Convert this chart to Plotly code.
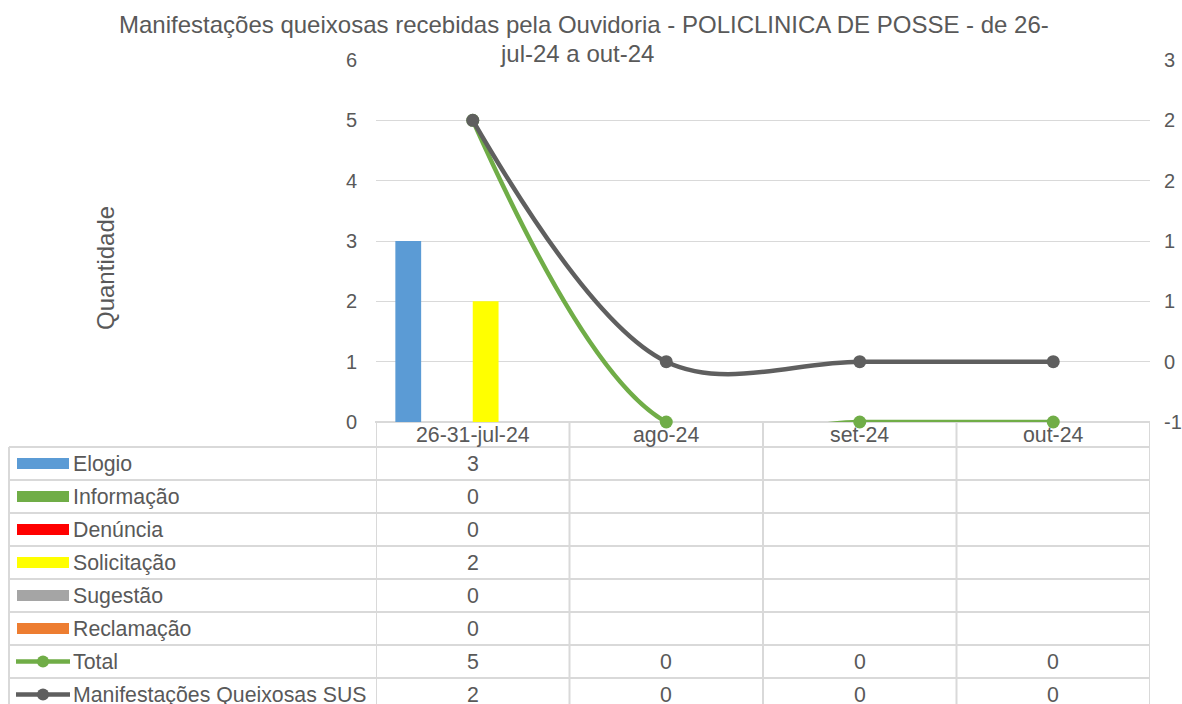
import plotly.graph_objects as go

# ---- data -------------------------------------------------------------
categories = ["26-31-jul-24", "ago-24", "set-24", "out-24"]

elogio = [3, None, None, None]
informacao = [0, None, None, None]
denuncia = [0, None, None, None]
solicitacao = [2, None, None, None]
sugestao = [0, None, None, None]
reclamacao = [0, None, None, None]
total = [5, 0, 0, 0]
queixosas_sus = [2, 0, 0, 0]

left_ticks = [0, 1, 2, 3, 4, 5, 6]
right_tick_labels = ["-1", "0", "1", "1", "2", "2", "3"]

title_lines = ["Manifestações queixosas recebidas pela Ouvidoria - POLICLINICA DE POSSE - de 26-",
               "jul-24 a out-24"]
y_title = "Quantidade"

bar_series = [
    ("Elogio", elogio, "#5B9BD5"),
    ("Informação", informacao, "#70AD47"),
    ("Denúncia", denuncia, "#FF0000"),
    ("Solicitação", solicitacao, "#FFFF00"),
    ("Sugestão", sugestao, "#A5A5A5"),
    ("Reclamação", reclamacao, "#ED7D31"),
]
line_series = [
    ("Total", total, "#70AD47", "y"),
    ("Manifestações Queixosas SUS", queixosas_sus, "#5F5F5F", "y2"),
]

# ---- layout geometry (pixels) -----------------------------------------
W, H = 1182, 704
L, R, T, B = 376, 32, 60, 282
PW, PH = W - L - R, H - T - B
TEXT = "#595959"
GRID = "#D9D9D9"
FONT = "Liberation Sans, Arial, sans-serif"
FS_TABLE = 21.3
FS_TICK = 20
FS_TITLE = 24


def px(x):
    return (x - L) / PW


def py(y):
    return (H - B - y) / PH


def tfont(size):
    return dict(size=size, color=TEXT, family=FONT)


fig = go.Figure()

for name, vals, color in bar_series:
    fig.add_trace(go.Bar(x=categories, y=vals, name=name, marker_color=color,
                         marker_line_width=0, showlegend=False))

for name, vals, color, axis in line_series:
    fig.add_trace(go.Scatter(x=categories, y=vals, name=name, yaxis=axis,
                             mode="lines+markers",
                             line=dict(color=color, width=4.5, shape="spline", smoothing=1),
                             marker=dict(color=color, size=13),
                             cliponaxis=False, showlegend=False))

# ---- data table under the plot ----------------------------------------
shapes = []
annotations = []
row_top = 447
row_h = 33
table_rows = [(n, v, c, "bar") for n, v, c in bar_series] + \
             [(n, v, c, "line") for n, v, c, _ in line_series]
n_rows = len(table_rows)
bottom = row_top + row_h * n_rows

line_style = dict(color=GRID, width=2)
# header row top (axis line)
shapes.append(dict(type="line", xref="paper", yref="paper", x0=px(375), x1=px(1150),
                   y0=py(422), y1=py(422), line=line_style, layer="below"))
# horizontal row separators
for k in range(n_rows + 1):
    y = row_top + k * row_h
    shapes.append(dict(type="line", xref="paper", yref="paper", x0=px(9), x1=px(1150),
                       y0=py(y), y1=py(y), line=line_style))
# vertical separators
shapes.append(dict(type="line", xref="paper", yref="paper", x0=px(9), x1=px(9),
                   y0=py(row_top), y1=py(bottom), line=line_style))
for i in range(len(categories) + 1):
    shapes.append(dict(type="line", xref="x", yref="paper", x0=i - 0.5, x1=i - 0.5,
                       y0=py(422), y1=py(bottom), line=line_style))

# category labels in the header row
for cat in categories:
    annotations.append(dict(x=cat, xref="x", y=py(435), yref="paper", text=cat,
                            xanchor="center", yanchor="middle",
                            showarrow=False, font=tfont(FS_TABLE)))

for k, (name, vals, color, kind) in enumerate(table_rows):
    yc = row_top + k * row_h + row_h / 2
    if kind == "bar":
        shapes.append(dict(type="rect", xref="paper", yref="paper",
                           x0=px(17), x1=px(69), y0=py(yc + 5.5), y1=py(yc - 5.5),
                           fillcolor=color, line=dict(width=0)))
    else:
        shapes.append(dict(type="line", xref="paper", yref="paper",
                           x0=px(16), x1=px(70), y0=py(yc), y1=py(yc),
                           line=dict(color=color, width=4.5)))
        shapes.append(dict(type="circle", xref="paper", yref="paper",
                           x0=px(43 - 6), x1=px(43 + 6), y0=py(yc + 6), y1=py(yc - 6),
                           fillcolor=color, line=dict(width=0)))
    annotations.append(dict(x=px(71), xref="paper", y=py(yc), yref="paper", text=name,
                            xanchor="left", yanchor="middle", showarrow=False,
                            font=tfont(FS_TABLE)))
    for cat, v in zip(categories, vals):
        if v is None:
            continue
        annotations.append(dict(x=cat, xref="x", y=py(yc), yref="paper", text=str(v),
                                xanchor="center", yanchor="middle",
                                showarrow=False, font=tfont(FS_TABLE)))

# vertical axis title
annotations.append(dict(x=px(105), xref="paper", y=py(268), yref="paper", text=y_title,
                        xanchor="center", yanchor="middle",
                        textangle=-90, showarrow=False, font=tfont(FS_TITLE)))

# chart title, two lines
for text, xc, yc in zip(title_lines, [584, 577], [24, 54]):
    annotations.append(dict(x=px(xc), xref="paper", y=py(yc), yref="paper", text=text,
                            xanchor="center", yanchor="middle", showarrow=False,
                            font=tfont(FS_TITLE)))

r_lo, r_step = -0.5, 0.5
right_tickvals = [r_lo + r_step * i for i in range(len(right_tick_labels))]

fig.update_layout(
    width=W, height=H,
    margin=dict(l=L, r=R, t=T, b=B, autoexpand=False),
    paper_bgcolor="white", plot_bgcolor="white",
    font=dict(family=FONT, color=TEXT, size=FS_TICK),
    barmode="group", bargap=0.2, bargroupgap=0,
    xaxis=dict(type="category", range=[-0.5, len(categories) - 0.5], automargin=False,
               showticklabels=False, showgrid=False, zeroline=False, showline=False),
    yaxis=dict(range=[left_ticks[0], left_ticks[-1]], tickvals=left_ticks, automargin=False,
               gridcolor=GRID, gridwidth=1, zeroline=False, showline=False,
               ticks="", ticklabelstandoff=18, tickfont=tfont(FS_TICK)),
    yaxis2=dict(overlaying="y", side="right", range=[right_tickvals[0], right_tickvals[-1]],
                tickvals=right_tickvals, ticktext=right_tick_labels, automargin=False,
                showgrid=False, zeroline=False, showline=False, ticks="",
                ticklabelstandoff=13, tickfont=tfont(FS_TICK)),
    shapes=shapes,
    annotations=annotations,
)

fig.write_html("out.html")
